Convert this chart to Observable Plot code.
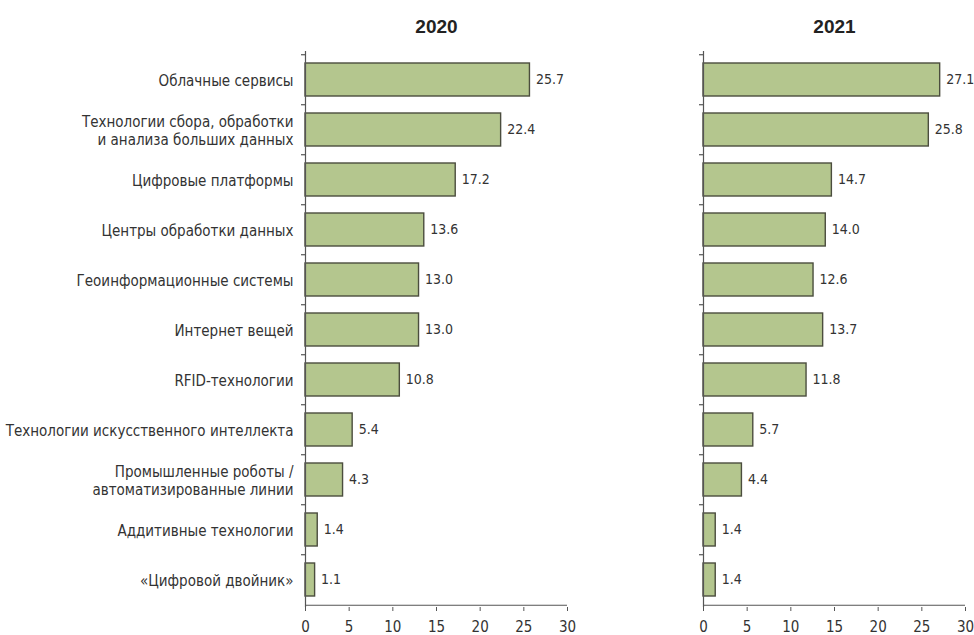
<!DOCTYPE html>
<html>
<head>
<meta charset="utf-8">
<script src="https://cdn.jsdelivr.net/npm/d3@7"></script>
<script src="https://cdn.jsdelivr.net/npm/@observablehq/plot@0.6"></script>
<style>
  body { margin: 0; background: #fff; }
  #wrap { position: relative; width: 974px; height: 635px; }
  #wrap > svg, #wrap > figure { position: absolute; top: 0; margin: 0; }
</style>
</head>
<body>
<div id="wrap"></div>
<script>
const categories = [
  "Облачные сервисы",
  "Технологии сбора, обработки\nи анализа больших данных",
  "Цифровые платформы",
  "Центры обработки данных",
  "Геоинформационные системы",
  "Интернет вещей",
  "RFID-технологии",
  "Технологии искусственного интеллекта",
  "Промышленные роботы /\nавтоматизированные линии",
  "Аддитивные технологии",
  "«Цифровой двойник»"
];
const values2020 = [25.7, 22.4, 17.2, 13.6, 13.0, 13.0, 10.8, 5.4, 4.3, 1.4, 1.1];
const values2021 = [27.1, 25.8, 14.7, 14.0, 12.6, 13.7, 11.8, 5.7, 4.4, 1.4, 1.4];
const years = ["2020", "2021"];
const xTicks = [0, 5, 10, 15, 20, 25, 30];

const H = 635, MT = 51, MB = 28;
const FILL = "#b4c68e", STROKE = "#4b4d3e", INK = "#333333", AXIS = "#555555";
const NARROW = "'Liberation Sans Narrow', 'Arial Narrow', 'DejaVu Sans Condensed', sans-serif";

function panel({values, title, width, marginLeft, marginRight, showLabels}) {
  const data = categories.map((c, i) => ({category: c, value: values[i]}));
  const step = (H - MT - MB) / categories.length;
  return Plot.plot({
    width, height: H, marginTop: MT, marginBottom: MB, marginLeft, marginRight,
    style: {fontFamily: NARROW, fontSize: "15px", color: INK, background: "transparent", overflow: "visible"},
    x: {domain: [0, 30], axis: null},
    y: {domain: categories, paddingInner: 0.35, paddingOuter: 0.175, axis: null},
    marks: [
      Plot.barX(data, {x: "value", y: "category", fill: FILL, stroke: STROKE, strokeWidth: 1.4}),
      Plot.text(data, {x: "value", y: "category", text: d => d.value.toFixed(1), textAnchor: "start", dx: 6, fill: INK, fontSize: 14}),
      Plot.ruleX([0], {stroke: AXIS, strokeWidth: 1.2}),
      Plot.ruleY(categories, {y: d => d, x1: 0, x2: 0, insetLeft: -4, dy: -step / 2, stroke: AXIS, strokeWidth: 1.2}),
      Plot.ruleY([categories[categories.length - 1]], {y: d => d, x1: 0, x2: 30, dy: step / 2, stroke: AXIS, strokeWidth: 1.2}),
      Plot.axisX({ticks: xTicks, tickSize: 4, tickPadding: 10, label: null, stroke: AXIS, fill: INK, fontSize: 15, tickFormat: d => String(d)}),
      showLabels ? Plot.axisY({tickSize: 0, tickPadding: 12, label: null, fill: INK, fontSize: 15, lineHeight: 1.25, fontFamily: "'Liberation Sans Narrow', 'DejaVu Sans Condensed', sans-serif"}) : null,
      Plot.text([title], {frameAnchor: "top", lineAnchor: "bottom", dy: -19, text: d => d, fontWeight: "bold", fontSize: 19, fill: "#222", fontFamily: "'Liberation Sans', Arial, sans-serif"})
    ]
  });
}

const wrap = document.getElementById("wrap");
const left = panel({values: values2020, title: years[0], width: 590, marginLeft: 305, marginRight: 23, showLabels: true});
left.style.left = "0px";
const right = panel({values: values2021, title: years[1], width: 384, marginLeft: 113, marginRight: 9, showLabels: false});
right.style.left = "590px";
wrap.appendChild(left);
wrap.appendChild(right);
</script>
</body>
</html>
